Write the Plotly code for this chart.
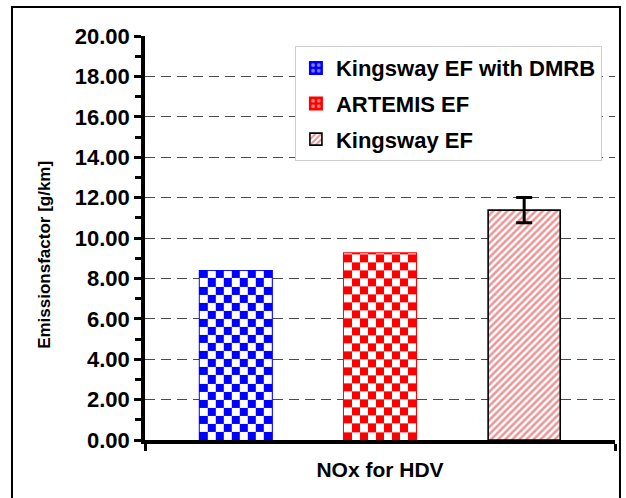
import numpy as np
import plotly.graph_objects as go

# ---- data -------------------------------------------------------------
category = "NOx for HDV"
series = ["Kingsway EF with DMRB", "ARTEMIS EF", "Kingsway EF"]
values = [8.37, 9.24, 11.38]          # g/km
error_half = [0.0, 0.0, 0.62]         # +/- error on the last series
y_ticks = [0, 2, 4, 6, 8, 10, 12, 14, 16, 18, 20]

# ---- styling ----------------------------------------------------------
FONT = "Arial, Liberation Sans, sans-serif"
BAR_W = 0.5
X_RANGE = [-0.63, 2.63]
CHECK_COLS = 9        # checker squares across one bar
CHECK_H = 0.4         # checker square height in g/km

positions = np.arange(len(series))

fig = go.Figure()

# Checkerboard-filled bars (blue, red) and a hatched bar
styles = [
    dict(color="#0000ff", checker=True),
    dict(color="#ff0000", checker=True),
    dict(color="white", checker=False),
]

for i, (name, val, err, st) in enumerate(zip(series, values, error_half, styles)):
    if st["checker"]:
        marker = dict(
            color=st["color"],
            line=dict(color=st["color"], width=2),
            pattern=dict(shape=".", fgcolor="white", bgcolor=st["color"],
                         size=7, solidity=0.35),
        )
    else:
        marker = dict(
            color="white",
            line=dict(color="black", width=1.6),
            pattern=dict(shape="/", fgcolor="#dc2a2a", bgcolor="white",
                         size=5, solidity=0.5),
        )
    fig.add_trace(go.Bar(
        x=[positions[i]], y=[val], width=BAR_W, name=name,
        marker=marker,
        error_y=dict(type="data", array=[err], visible=err > 0,
                     color="black", thickness=3, width=8),
        legendgroup=name,
        xaxis="x", yaxis="y",
    ))

# Checker texture laid over the two checkered bars (on an overlaid axis so
# it sits above the bar fill)
for i, (val, st) in enumerate(zip(values, styles)):
    if not st["checker"]:
        continue
    c = positions[i]
    xe = np.linspace(c - BAR_W / 2, c + BAR_W / 2, CHECK_COLS + 1)
    ye = np.arange(0, val, CHECK_H)
    ye = np.append(ye, val)
    nr = len(ye) - 1
    z = [[(r + k) % 2 for k in range(CHECK_COLS)] for r in range(nr)]
    fig.add_trace(go.Heatmap(
        x=xe, y=ye, z=z, zmin=0, zmax=1,
        colorscale=[[0, st["color"]], [1, "white"]],
        showscale=False, hoverinfo="skip", showlegend=False,
        xaxis="x", yaxis="y2",
    ))

fig.update_layout(
    width=626, height=498,
    margin=dict(l=145, r=11, t=36, b=58),
    paper_bgcolor="white", plot_bgcolor="white",
    font=dict(family=FONT, color="black"),
    hovermode=False,
    showlegend=True,
    legend=dict(
        x=0.319, y=0.975, xanchor="left", yanchor="top",
        bgcolor="white", bordercolor="#cfcfcf", borderwidth=1,
        font=dict(family=FONT, size=22, color="black", weight="bold"),
        tracegroupgap=4,
        itemclick=False, itemdoubleclick=False,
    ),
    xaxis=dict(
        range=X_RANGE,
        tickmode="array", tickvals=[1], ticktext=[category],
        ticks="", showgrid=False, zeroline=False,
        showline=True, linecolor="black", linewidth=3.5,
        tickfont=dict(family=FONT, size=21, weight="bold"),
        ticklabelstandoff=8,
        minor=dict(tickmode="array", tickvals=X_RANGE, ticks="outside",
                   ticklen=7, tickwidth=3, tickcolor="black", showgrid=False),
    ),
    yaxis=dict(
        range=[0, 20],
        tickmode="array", tickvals=y_ticks,
        tickformat=".2f",
        ticks="outside", ticklen=7, tickwidth=2.5, tickcolor="black",
        showline=True, linecolor="black", linewidth=3.5,
        showgrid=True, gridcolor="#4a4a4a", gridwidth=1.2,
        griddash="10px,6px",
        zeroline=False,
        tickfont=dict(family=FONT, size=22, weight="bold"),
        minor=dict(dtick=1, ticks="outside", ticklen=6, tickwidth=2.5,
                   tickcolor="black", showgrid=False),
    ),
    yaxis2=dict(range=[0, 20], overlaying="y", visible=False),
    annotations=[dict(
        text="Emissionsfactor [g/km]", textangle=-90,
        xref="paper", yref="paper", x=-0.213, y=0.458,
        xanchor="center", yanchor="middle", showarrow=False,
        font=dict(family=FONT, size=17, weight="bold", color="black"),
    )],
    shapes=[dict(
        type="rect", xref="paper", yref="paper",
        x0=-0.283, x1=1.0106, y0=-0.165, y1=1.0718,
        line=dict(color="black", width=2), fillcolor="rgba(0,0,0,0)",
        layer="below",
    )],
)

fig.write_html("out.html")
